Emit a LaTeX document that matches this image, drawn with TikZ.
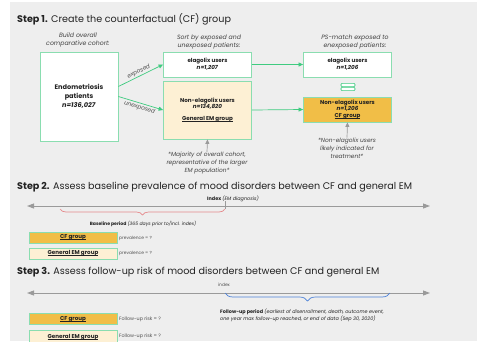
\documentclass[tikz,border=0pt]{standalone}
\usepackage{fontspec}
\setmainfont{Poppins}
\usetikzlibrary{arrows.meta,decorations.pathreplacing}
\newcommand{\myul}[1]{\setbox0\hbox{#1}\rlap{\rule[-1.1pt]{\wd0}{0.45pt}}\box0}
\definecolor{bgc}{HTML}{EEEEEE}
\definecolor{bgreen}{HTML}{8ADDB0}
\definecolor{agreen}{HTML}{3FCB80}
\definecolor{gold}{HTML}{F1BE47}
\definecolor{cream}{HTML}{FDF0D4}
\definecolor{txt}{HTML}{222222}
\definecolor{gline}{HTML}{9A9A9A}
\definecolor{pinkb}{HTML}{E58A8C}
\definecolor{blueb}{HTML}{4A80D8}
\tikzset{
  box/.style={draw=bgreen, line width=0.8pt, fill=white, align=center, inner sep=1pt, text=txt,
    font=\fontsize{5.6}{6.8}\selectfont\bfseries},
  cfbox/.style={box, fill=gold},
  embox/.style={box, fill=cream},
  garrow/.style={draw=agreen, line width=0.7pt, -{Triangle[length=4.5pt,width=4pt]}},
  grarrow/.style={draw=gline, line width=0.7pt, -{Triangle[length=4.5pt,width=4pt]}},
  tline/.style={draw=gline, line width=0.9pt, {Triangle[length=7pt,width=5pt]}-{Triangle[length=7pt,width=5pt]}},
  note/.style={font=\fontsize{6.2}{8}\selectfont\itshape, align=center, text=txt!85, inner sep=0},
  ttl/.style={anchor=west, font=\fontsize{9.6}{11}\selectfont, inner sep=0, text=txt},
  tiny/.style={anchor=west, font=\fontsize{4.4}{5.5}\selectfont, inner sep=0, text=txt!80},
  small/.style={font=\fontsize{4.9}{6.8}\selectfont, inner sep=0, text=txt},
  eqbar/.style={draw=agreen, line width=0.6pt, fill=white, rounded corners=1pt, minimum width=14pt, minimum height=3.2pt, inner sep=0},
  lbl/.style={font=\fontsize{5.8}{7}\selectfont\itshape, text=txt!80, inner sep=1pt}
}
\begin{document}
\begin{tikzpicture}[x=1pt,y=-1pt]
\useasboundingbox (0,0) rectangle (477,341);
\fill[bgc] (10,2) rectangle (477,341);

% Step 1
\node[ttl] (t1) at (17,19) {\textbf{Step 1.} Create the counterfactual (CF) group};
\node[note] (n1) at (78,40) {Build overall\\comparative cohort:};
\node[note] (n2) at (209,42) {Sort by exposed and\\unexposed patients:};
\node[note] (n3) at (355,42) {PS-match exposed to\\enexposed patients:};

\node[box, minimum width=78pt, minimum height=89pt, font=\fontsize{6.6}{9}\selectfont\bfseries] (endo) at (79,96.5)
  {Endometriosis\\patients\\\textit{n=136,027}};
\node[box, minimum width=88pt, minimum height=25pt] (ela1) at (207.5,64.5) {elagolix users\\\textit{n=1,207}};
\node[embox, minimum width=88pt, minimum height=58pt] (non) at (207.5,110)
  {Non-elagolix users\\\textit{n=134,820}\\[5pt]\myul{General EM group}};
\node[box, minimum width=88pt, minimum height=25pt] (ela2) at (347.5,64.5) {elagolix users\\\textit{n=1,206}};
\node[cfbox, minimum width=88pt, minimum height=25pt] (cf) at (347.5,109.5)
  {Non-elagolix users\\\textit{n=1,206}\\\myul{CF group}};
\node[eqbar] (eqa) at (348,85) {};
\node[eqbar] (eqb) at (348,89) {};

\draw[garrow] ([yshift=10pt]endo.east) -- node[lbl, sloped, above] {exposed} (ela1.west);
\draw[garrow] (endo.east) -- node[lbl, sloped, below] {unexposed} (non.west);
\draw[garrow] (ela1.east) -- (ela2.west);
\draw[garrow] (non.east) -- (cf.west);

\node[note, font=\fontsize{5.9}{7.8}\selectfont\itshape] (noteA) at (207,163) {*Majority of overall cohort,\\representative of the larger\\EM population*};
\node[note, font=\fontsize{5.9}{7.8}\selectfont\itshape] (noteB) at (347,148) {*Non-elagolix users\\likely indicated for\\treatment*};
\draw[grarrow] (noteA.north) -- (non.south);
\draw[grarrow] (noteB.north) -- (cf.south);

% Step 2
\node[ttl] (t2) at (17,187) {\textbf{Step 2.} Assess baseline prevalence of mood disorders between CF and general EM};
\node[small, anchor=west] (idx2) at (207,199) {\textbf{Index} \textit{(EM diagnosis)}};
\coordinate (L2) at (27,206);
\coordinate (R2) at (430,206);
\draw[tline] (L2) -- (R2);
\coordinate (i2a) at (225,201);
\coordinate (i2b) at (225,209);
\draw[gline, line width=0.7pt] (i2a) -- (i2b);
\coordinate (b2a) at (60,209);
\draw[pinkb, line width=0.7pt, decorate, decoration={brace, amplitude=6pt, mirror}] (b2a) -- (i2b);
\node[small, font=\fontsize{4.6}{6}\selectfont] (bp) at (143,224) {\textbf{Baseline period} \textit{(365 days prior to/incl. index)}};
\node[cfbox, minimum width=88pt, minimum height=11pt, inner sep=0] (cf2) at (73,237.5) {\myul{CF group}};
\node[embox, minimum width=88pt, minimum height=11pt, inner sep=0] (em2) at (73,253.5) {\myul{General EM group}};
\node[tiny] (pv1) at (119,238) {prevalence = ?};
\node[tiny] (pv2) at (119,253.5) {prevalence = ?};

% Step 3
\node[ttl] (t3) at (17,272) {\textbf{Step 3.} Assess follow-up risk of mood disorders between CF and general EM};
\node[tiny, anchor=center] (idx3) at (224,285) {index};
\coordinate (L3) at (27,293);
\coordinate (R3) at (430,293);
\draw[tline] (L3) -- (R3);
\coordinate (b3a) at (225,293);
\coordinate (b3b) at (390,293);
\draw[blueb, line width=0.7pt, decorate, decoration={brace, amplitude=8pt, mirror}] (b3a) -- (b3b);
\node[small, anchor=north west, align=left, font=\fontsize{4.9}{7}\selectfont] (fu) at (220,309)
  {\textbf{Follow-up period} \textit{(earliest of disenrollment, death, outcome event,}\\\textit{one year max follow-up reached, or end of data (Sep 30, 2020)}};
\node[cfbox, minimum width=88pt, minimum height=11.5pt, inner sep=0] (cf3) at (73,319) {\myul{CF group}};
\node[embox, minimum width=88pt, minimum height=13pt, anchor=north, inner sep=0] (em3) at (73,330) {\myul{General EM group}};
\node[tiny, font=\fontsize{4.8}{6}\selectfont] (fr1) at (119,319) {Follow-up risk = ?};
\node[tiny, font=\fontsize{4.8}{6}\selectfont] (fr2) at (119,336) {Follow-up risk = ?};
\end{tikzpicture}
\end{document}
